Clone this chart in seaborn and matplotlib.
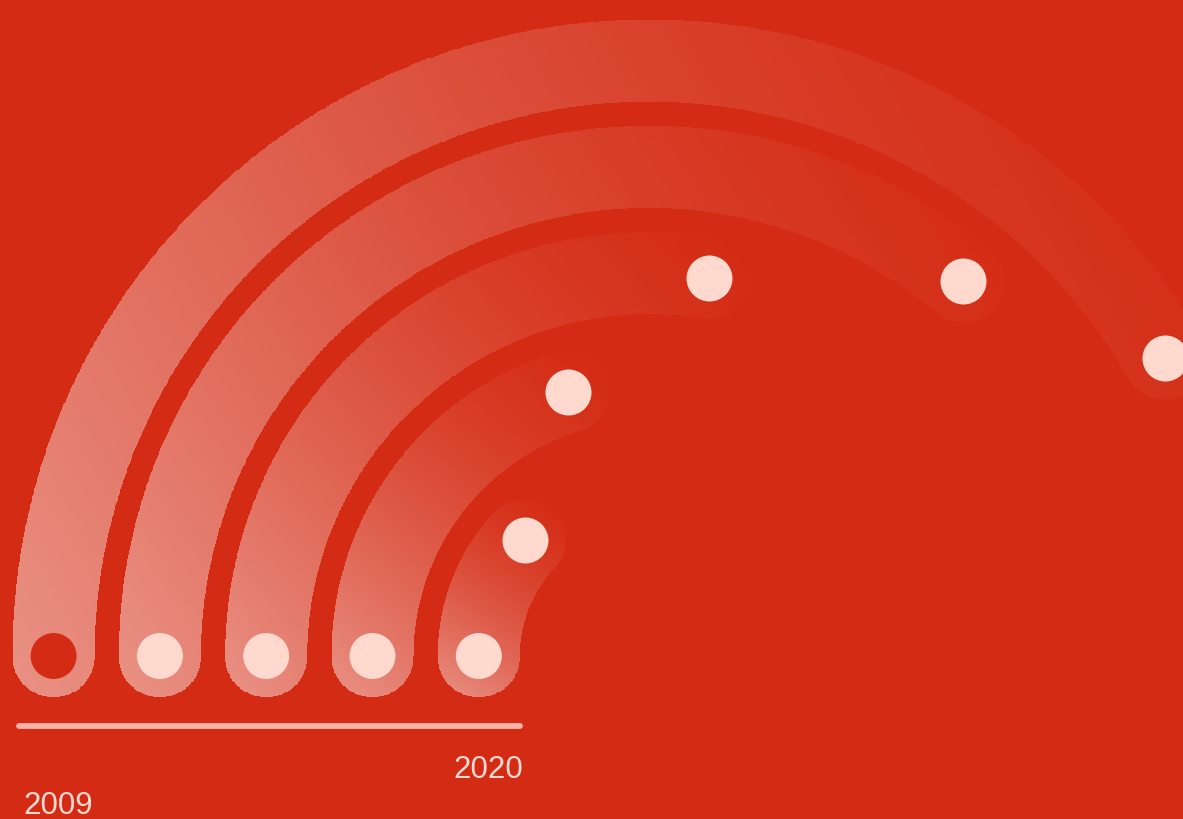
import numpy as np
import pandas as pd
import matplotlib
matplotlib.use("Agg")
import matplotlib.pyplot as plt
from matplotlib.colors import LinearSegmentedColormap, to_rgb
from matplotlib.lines import Line2D
import seaborn as sns

# ---------------- data ----------------
years = ["2009", "2012", "2015", "2018", "2020"]      # outer ring -> inner ring
values = [150, 130, 99, 73, 43]                        # angular extent (scale max 360)
angle_max = 360
shown_labels = ["2009", "2020"]

# ---------------- style ----------------
BG = "#D42C14"
PINK = "#FFD8CE"
AXIS_COL = "#F8B2A7"
TEXT_COL = "#FFDAD2"
start_dot_colors = [BG, PINK, PINK, PINK, PINK]
A_MAX = 0.48            # white overlay at the lightest end of the gradient
FADE_POW = 1.5

sns.set_theme(style="white", rc={"figure.facecolor": BG, "axes.facecolor": BG,
                                 "savefig.facecolor": BG})
plt.rcParams["font.family"] = ["Liberation Sans", "DejaVu Sans"]

W, H = 1183, 820
DPI = 100
fig = plt.figure(figsize=(W / DPI, H / DPI), dpi=DPI)

# polar axes, centre placed at pixel (649, 657 from top)
cx, cy = 649, H - 657
R = 760
ax = fig.add_axes([(cx - R) / W, (cy - R) / H, 2 * R / W, 2 * R / H], projection="polar")
step = 106.3            # px per category band
r_inner = 170.2         # px radius of innermost ring
rmin = -r_inner / step
ax.set_ylim(rmin, rmin + R / step)
ax.set_xlim(0, 2 * np.pi)
ax.set_theta_zero_location("W")
ax.set_theta_direction(-1)
ax.axis("off")

n = len(years)
df = pd.DataFrame({"year": years, "value": values})
df["k"] = (n - 1 - np.arange(n)).astype(float)
df["theta"] = np.deg2rad(np.array(values) / angle_max * 360.0)

bw = 82.0 / step        # band width in r-units
h = bw / 2

bg_rgb = np.array(to_rgb(BG))
light_rgb = bg_rgb + (1 - bg_rgb) * A_MAX
cmap = LinearSegmentedColormap.from_list("fade", [BG, tuple(light_rgb)])


def xy(rho, th):
    return -rho * np.cos(th), rho * np.sin(th)


def to_polar(X, Y):
    rho = np.hypot(X, Y)
    return np.arctan2(Y, -X), rho + rmin


def centres(A):
    return 0.25 * (A[:-1, :-1] + A[1:, :-1] + A[:-1, 1:] + A[1:, 1:])


for _, row in df.iterrows():
    k, th_end = row["k"], row["theta"]
    rho = k - rmin
    # bounding box of the rounded ring shape (cartesian, r-units)
    ts = np.linspace(0, th_end, 300)
    px, py = [], []
    for rr in (rho - h, rho + h):
        a, b = xy(rr, ts)
        px.append(a); py.append(b)
    phi = np.linspace(0, 2 * np.pi, 120)
    for tt in (0.0, th_end):
        c0, c1 = xy(rho, tt)
        px.append(c0 + h * np.cos(phi)); py.append(c1 + h * np.sin(phi))
    px = np.concatenate(px); py = np.concatenate(py)
    x0, x1, y0, y1 = px.min(), px.max(), py.min(), py.max()
    d2 = (x1 - x0) ** 2 + (y1 - y0) ** 2

    def level(X, Y):
        t = ((X - x0) * (x1 - x0) + (Y - y0) * (y1 - y0)) / d2
        return np.clip(1 - t, 0, 1) ** FADE_POW

    # ring body
    th_edges = np.linspace(0, th_end, max(120, int(np.rad2deg(th_end) * 4)))
    r_edges = np.linspace(k - h, k + h, 13)
    TH, RR = np.meshgrid(th_edges, r_edges)
    Xv, Yv = xy(RR - rmin, TH)
    C = level(centres(Xv), centres(Yv))
    ax.pcolormesh(TH, RR, C, cmap=cmap, vmin=0, vmax=1, shading="flat",
                  antialiased=False, edgecolors="none", zorder=2)

    # rounded caps (half discs) as curvilinear meshes
    sx, sy = xy(rho, 0.0)
    ex, ey = xy(rho, th_end)
    psi = np.arctan2(np.cos(th_end), np.sin(th_end))
    for (ccx, ccy, p0, p1) in ((sx, sy, np.pi - 0.03, 2 * np.pi + 0.03),
                               (ex, ey, psi - np.pi / 2 - 0.03, psi + np.pi / 2 + 0.03)):
        S, PH = np.meshgrid(np.linspace(0, 1, 14), np.linspace(p0, p1, 72))
        Xc = ccx + S * h * np.cos(PH)
        Yc = ccy + S * h * np.sin(PH)
        Tc, Rc = to_polar(Xc, Yc)
        Cc = level(centres(Xc), centres(Yc))
        ax.pcolormesh(Tc, Rc, Cc, cmap=cmap, vmin=0, vmax=1, shading="flat",
                      antialiased=False, edgecolors="none", zorder=2)

dot_size = (46 * 72 / DPI) ** 2
sns.scatterplot(x=df["theta"], y=df["k"], color=PINK, s=dot_size, linewidth=0,
                legend=False, ax=ax, zorder=4)
sns.scatterplot(x=np.zeros(n), y=df["k"], hue=df["year"], palette=start_dot_colors,
                s=dot_size, linewidth=0, legend=False, ax=ax, zorder=4)
ax.set_xlabel(""); ax.set_ylabel("")
ax.set_xlim(0, 2 * np.pi)
ax.set_ylim(rmin, rmin + R / step)

# radius axis line and end labels (pixel positions derived from the polar scale)
fig.canvas.draw()
p_out = ax.transData.transform((0, df["k"].max() + h))
p_in = ax.transData.transform((0, df["k"].min() - h))
ya = H - 727
fig.add_artist(Line2D([(p_out[0] + 6) / W, (p_in[0] + 0) / W], [ya / H, ya / H],
                      transform=fig.transFigure, color=AXIS_COL, lw=4.2,
                      solid_capstyle="round"))
p09 = ax.transData.transform((0, df.loc[df.year == shown_labels[0], "k"].iloc[0]))
p20 = ax.transData.transform((0, df.loc[df.year == shown_labels[1], "k"].iloc[0]))
fig.text((p09[0] + 5) / W, (H - 814) / H, shown_labels[0], color=TEXT_COL,
         fontsize=22.5, ha="center", va="baseline")
fig.text((p20[0] + 9) / W, (H - 778) / H, shown_labels[1], color=TEXT_COL,
         fontsize=22.5, ha="center", va="baseline")

fig.savefig("out.png", dpi=DPI, facecolor=BG)
